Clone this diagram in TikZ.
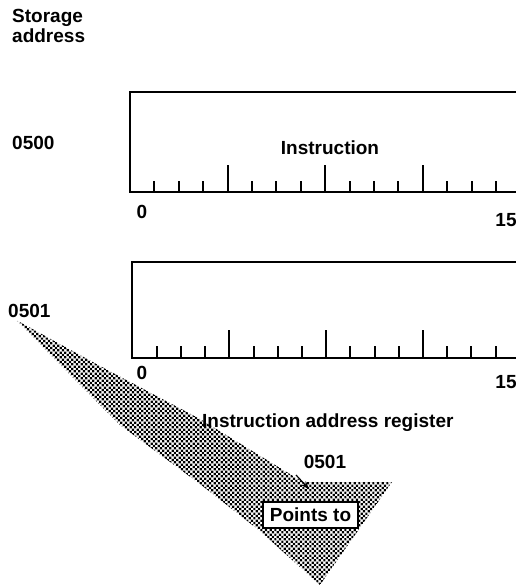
\documentclass[tikz,border=0pt]{standalone}
\usepackage{fontspec}
\setmainfont{Liberation Sans}
\usetikzlibrary{patterns.meta,arrows.meta}
\begin{document}
\begin{tikzpicture}[x=1pt,y=-1pt,
  lbl/.style={font=\bfseries\fontsize{19}{20}\selectfont, inner sep=0pt},
  regline/.style={line width=2.4pt},
  smalltick/.style={line width=2pt},
  bigtick/.style={line width=2.2pt},
  halftone/.style={pattern={Dots[distance=3.3pt,radius=1.55pt,angle=45]}},
  ptbox/.style={lbl, draw, fill=white, line width=2pt, minimum width=95pt, minimum height=26pt}]
\useasboundingbox (0,0) rectangle (516,586);

% shaded wedge
\path[halftone] (16,320) -- (100,366) -- (200,419) -- (303,482) -- (392,482)
  -- (320,585) -- (260,531) -- (200,484) -- (120,425) -- cycle;

% labels
\node[lbl, anchor=base west] (st1) at (12,23) {Storage};
\node[lbl, anchor=base west] (st2) at (12,43) {address};
\node[lbl, anchor=west] (a500) at (12,143) {0500};
\node[lbl, anchor=west] (a501) at (8,311) {0501};

% register 1
\draw[regline] (517,92) -- (130,92) -- (130,192) -- (517,192);
\foreach \i in {1,...,15} {
  \pgfmathtruncatemacro{\m}{mod(\i,4)}
  \ifnum\m=0
    \draw[bigtick] (130+24.4*\i,192) -- ++(0,-27);
  \else
    \draw[smalltick] (130+24.4*\i,192) -- ++(0,-11);
  \fi
}
\node[lbl, anchor=base] (instr) at (330,154) {Instruction};
\node[lbl] (z1) at (142,212) {0};
\node[lbl] (f1) at (506,220) {15};

% register 2 (instruction address register)
\draw[regline] (517,262) -- (132,262) -- (132,358) -- (517,358);
\foreach \i in {1,...,15} {
  \pgfmathtruncatemacro{\m}{mod(\i,4)}
  \ifnum\m=0
    \draw[bigtick] (132.5+24.2*\i,358) -- ++(0,-28);
  \else
    \draw[smalltick] (132.5+24.2*\i,358) -- ++(0,-12);
  \fi
}
\node[lbl] (z2) at (142,373) {0};
\node[lbl] (f2) at (506,382) {15};
\node[lbl, anchor=base west] (iar) at (202,427) {Instruction address register};

% pointer
\node[lbl] (v501) at (325,462) {0501};
\coordinate (arS) at (296,475);
\coordinate (arE) at (309,489);
\draw[line width=1.2pt, -{Stealth[length=8pt,width=6pt]}] (arS) -- (arE);
\node[ptbox] (pts) at (310.5,515) {Points to};
\end{tikzpicture}
\end{document}
